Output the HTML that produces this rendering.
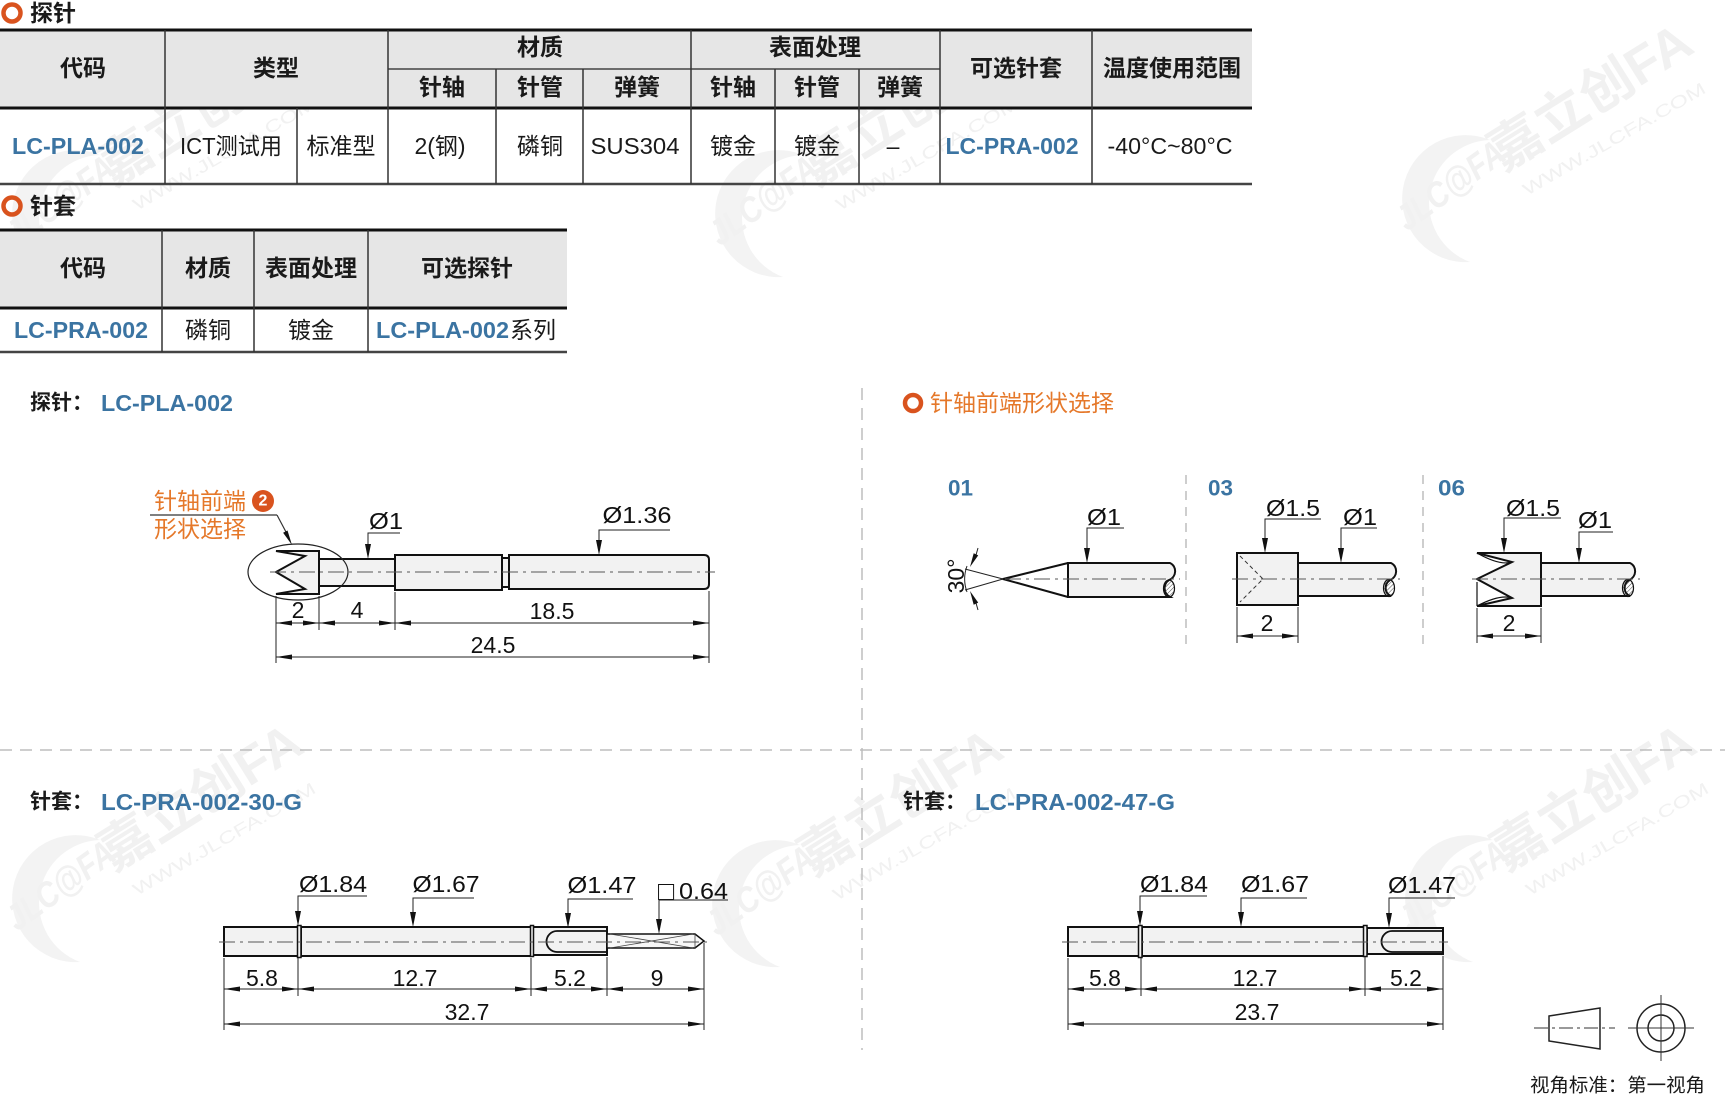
<!DOCTYPE html>
<html><head><meta charset="utf-8"><style>
html,body{margin:0;padding:0;background:#fff;}
svg{display:block;}
text{font-family:"Liberation Sans","Noto Sans CJK SC",sans-serif;}
.h{font-size:23px;font-weight:bold;fill:#1a1a1a;text-anchor:middle;dominant-baseline:central;}
.d{font-size:23px;fill:#1a1a1a;text-anchor:middle;dominant-baseline:central;}
.bl{font-weight:bold;fill:#3b74a2;}
.dim{font-size:23px;fill:#111;text-anchor:middle;dominant-baseline:central;}
.o{fill:#f2f2f2;stroke:#111;stroke-width:2;}
.dl{stroke:#222;stroke-width:1;fill:none;}
.cl{stroke:#555;stroke-width:1;stroke-dasharray:16 5 3 5;fill:none;}
.ar{fill:#111;}
.vl{stroke:#333;stroke-width:1.5;}
.wm text{fill:#f1f1f1;}
.wm path{fill:#f3f3f3;}
</style></head><body>
<svg width="1725" height="1099" viewBox="0 0 1725 1099" xmlns="http://www.w3.org/2000/svg">
<defs>
<pattern id="hatch" width="3" height="3" patternUnits="userSpaceOnUse" patternTransform="rotate(45)">
<line x1="0" y1="0" x2="0" y2="3" stroke="#333" stroke-width="0.9"/>
</pattern>
</defs>

<!-- watermarks -->
<g class="wm" transform="translate(0,0)">
<path d="M1490,140 A63.5,63.5 0 1,0 1470,262 A63,63 0 0,1 1490,140 Z"/>
<text x="1407" y="232" transform="rotate(-36 1407 232)" font-size="36" font-weight="bold" font-style="italic" textLength="125" lengthAdjust="spacingAndGlyphs">JLC@FA</text>
<text x="1503" y="172" transform="rotate(-32 1503 172)" font-size="52" font-weight="bold" textLength="228" lengthAdjust="spacingAndGlyphs">嘉立创FA</text>
<text x="1527" y="196" transform="rotate(-30 1527 196)" font-size="17" textLength="208" lengthAdjust="spacingAndGlyphs">WWW.JLCFA.COM</text>
</g>
<g class="wm" transform="translate(-1390,15)">
<path d="M1490,140 A63.5,63.5 0 1,0 1470,262 A63,63 0 0,1 1490,140 Z"/>
<text x="1407" y="232" transform="rotate(-36 1407 232)" font-size="36" font-weight="bold" font-style="italic" textLength="125" lengthAdjust="spacingAndGlyphs">JLC@FA</text>
<text x="1503" y="172" transform="rotate(-32 1503 172)" font-size="52" font-weight="bold" textLength="228" lengthAdjust="spacingAndGlyphs">嘉立创FA</text>
<text x="1527" y="196" transform="rotate(-30 1527 196)" font-size="17" textLength="208" lengthAdjust="spacingAndGlyphs">WWW.JLCFA.COM</text>
</g>
<g class="wm" transform="translate(-687,15)">
<path d="M1490,140 A63.5,63.5 0 1,0 1470,262 A63,63 0 0,1 1490,140 Z"/>
<text x="1407" y="232" transform="rotate(-36 1407 232)" font-size="36" font-weight="bold" font-style="italic" textLength="125" lengthAdjust="spacingAndGlyphs">JLC@FA</text>
<text x="1503" y="172" transform="rotate(-32 1503 172)" font-size="52" font-weight="bold" textLength="228" lengthAdjust="spacingAndGlyphs">嘉立创FA</text>
<text x="1527" y="196" transform="rotate(-30 1527 196)" font-size="17" textLength="208" lengthAdjust="spacingAndGlyphs">WWW.JLCFA.COM</text>
</g>
<g class="wm" transform="translate(-1390,700)">
<path d="M1490,140 A63.5,63.5 0 1,0 1470,262 A63,63 0 0,1 1490,140 Z"/>
<text x="1407" y="232" transform="rotate(-36 1407 232)" font-size="36" font-weight="bold" font-style="italic" textLength="125" lengthAdjust="spacingAndGlyphs">JLC@FA</text>
<text x="1503" y="172" transform="rotate(-32 1503 172)" font-size="52" font-weight="bold" textLength="228" lengthAdjust="spacingAndGlyphs">嘉立创FA</text>
<text x="1527" y="196" transform="rotate(-30 1527 196)" font-size="17" textLength="208" lengthAdjust="spacingAndGlyphs">WWW.JLCFA.COM</text>
</g>
<g class="wm" transform="translate(-690,705)">
<path d="M1490,140 A63.5,63.5 0 1,0 1470,262 A63,63 0 0,1 1490,140 Z"/>
<text x="1407" y="232" transform="rotate(-36 1407 232)" font-size="36" font-weight="bold" font-style="italic" textLength="125" lengthAdjust="spacingAndGlyphs">JLC@FA</text>
<text x="1503" y="172" transform="rotate(-32 1503 172)" font-size="52" font-weight="bold" textLength="228" lengthAdjust="spacingAndGlyphs">嘉立创FA</text>
<text x="1527" y="196" transform="rotate(-30 1527 196)" font-size="17" textLength="208" lengthAdjust="spacingAndGlyphs">WWW.JLCFA.COM</text>
</g>
<g class="wm" transform="translate(3,700)">
<path d="M1490,140 A63.5,63.5 0 1,0 1470,262 A63,63 0 0,1 1490,140 Z"/>
<text x="1407" y="232" transform="rotate(-36 1407 232)" font-size="36" font-weight="bold" font-style="italic" textLength="125" lengthAdjust="spacingAndGlyphs">JLC@FA</text>
<text x="1503" y="172" transform="rotate(-32 1503 172)" font-size="52" font-weight="bold" textLength="228" lengthAdjust="spacingAndGlyphs">嘉立创FA</text>
<text x="1527" y="196" transform="rotate(-30 1527 196)" font-size="17" textLength="208" lengthAdjust="spacingAndGlyphs">WWW.JLCFA.COM</text>
</g>

<!-- ===== Table 1 ===== -->
<circle cx="12" cy="13" r="8.5" fill="none" stroke="#d9531e" stroke-width="4.5"/>
<text x="30" y="13" font-size="23" font-weight="bold" fill="#1a1a1a" dominant-baseline="central">探针</text>
<rect x="0" y="31" width="1252" height="77" fill="#e6e6e6"/>
<line x1="0" y1="30" x2="1252" y2="30" stroke="#111" stroke-width="3"/>
<line x1="0" y1="108" x2="1252" y2="108" stroke="#111" stroke-width="3"/>
<line x1="0" y1="184" x2="1252" y2="184" stroke="#444" stroke-width="2.5"/>
<line x1="388" y1="69" x2="940" y2="69" stroke="#444" stroke-width="1.5"/>
<line class="vl" x1="165" y1="30" x2="165" y2="184"/>
<line class="vl" x1="297" y1="108" x2="297" y2="184"/>
<line class="vl" x1="388" y1="30" x2="388" y2="184"/>
<line class="vl" x1="496" y1="69" x2="496" y2="184"/>
<line class="vl" x1="583" y1="69" x2="583" y2="184"/>
<line class="vl" x1="691" y1="30" x2="691" y2="184"/>
<line class="vl" x1="775" y1="69" x2="775" y2="184"/>
<line class="vl" x1="859" y1="69" x2="859" y2="184"/>
<line class="vl" x1="940" y1="30" x2="940" y2="184"/>
<line class="vl" x1="1092" y1="30" x2="1092" y2="184"/>

<text class="h" x="83" y="68">代码</text>
<text class="h" x="276" y="68">类型</text>
<text class="h" x="540" y="47">材质</text>
<text class="h" x="442" y="87">针轴</text>
<text class="h" x="540" y="87">针管</text>
<text class="h" x="637" y="87">弹簧</text>
<text class="h" x="815" y="47">表面处理</text>
<text class="h" x="733" y="87">针轴</text>
<text class="h" x="817" y="87">针管</text>
<text class="h" x="900" y="87">弹簧</text>
<text class="h" x="1016" y="68">可选针套</text>
<text class="h" x="1172" y="68">温度使用范围</text>

<text class="d bl" x="78" y="146" textLength="132" lengthAdjust="spacingAndGlyphs">LC-PLA-002</text>
<text class="d" x="231" y="146" textLength="102" lengthAdjust="spacingAndGlyphs">ICT测试用</text>
<text class="d" x="341" y="146">标准型</text>
<text class="d" x="440" y="146">2(钢)</text>
<text class="d" x="540" y="146">磷铜</text>
<text class="d" x="635" y="146" textLength="89" lengthAdjust="spacingAndGlyphs">SUS304</text>
<text class="d" x="733" y="146">镀金</text>
<text class="d" x="817" y="146">镀金</text>
<text class="d" x="893" y="146">–</text>
<text class="d bl" x="1012" y="146" textLength="133" lengthAdjust="spacingAndGlyphs">LC-PRA-002</text>
<text class="d" x="1170" y="146" textLength="125" lengthAdjust="spacingAndGlyphs">-40°C~80°C</text>

<!-- ===== Table 2 ===== -->
<circle cx="12" cy="206" r="8.5" fill="none" stroke="#d9531e" stroke-width="4.5"/>
<text x="30" y="206" font-size="23" font-weight="bold" fill="#1a1a1a" dominant-baseline="central">针套</text>
<rect x="0" y="231" width="567" height="77" fill="#e6e6e6"/>
<line x1="0" y1="230" x2="567" y2="230" stroke="#111" stroke-width="3"/>
<line x1="0" y1="308" x2="567" y2="308" stroke="#111" stroke-width="3"/>
<line x1="0" y1="352" x2="567" y2="352" stroke="#444" stroke-width="2.5"/>
<line class="vl" x1="162" y1="230" x2="162" y2="352"/>
<line class="vl" x1="254" y1="230" x2="254" y2="352"/>
<line class="vl" x1="368" y1="230" x2="368" y2="352"/>
<text class="h" x="83" y="268">代码</text>
<text class="h" x="208" y="268">材质</text>
<text class="h" x="311" y="268">表面处理</text>
<text class="h" x="467" y="268">可选探针</text>
<text class="d bl" x="81" y="330" textLength="134" lengthAdjust="spacingAndGlyphs">LC-PRA-002</text>
<text class="d" x="208" y="330">磷铜</text>
<text class="d" x="311" y="330">镀金</text>
<text class="d bl" x="376" y="330" style="text-anchor:start" textLength="133" lengthAdjust="spacingAndGlyphs">LC-PLA-002</text>
<text class="d" x="510" y="330" style="text-anchor:start">系列</text>

<!-- ===== dividers ===== -->
<line x1="0" y1="750" x2="1725" y2="750" stroke="#bdbdbd" stroke-width="1.5" stroke-dasharray="12 8"/>
<line x1="862" y1="388" x2="862" y2="1050" stroke="#bdbdbd" stroke-width="1.5" stroke-dasharray="12 8"/>
<line x1="1186" y1="475" x2="1186" y2="650" stroke="#bdbdbd" stroke-width="1.5" stroke-dasharray="9 7"/>
<line x1="1423" y1="475" x2="1423" y2="650" stroke="#bdbdbd" stroke-width="1.5" stroke-dasharray="9 7"/>

<!-- ===== Probe drawing ===== -->
<text x="30" y="403" font-size="21" font-weight="bold" fill="#1a1a1a" dominant-baseline="central">探针：</text>
<text x="101" y="403" font-size="23" class="bl" dominant-baseline="central" textLength="132" lengthAdjust="spacingAndGlyphs">LC-PLA-002</text>

<text x="154" y="501" font-size="23" fill="#e5782a" dominant-baseline="central">针轴前端</text>
<circle cx="263" cy="501" r="11" fill="#d9531e"/>
<text x="263" y="501" font-size="16" font-weight="bold" fill="#fff" text-anchor="middle" dominant-baseline="central">2</text>
<line x1="150" y1="515" x2="277" y2="515" stroke="#333" stroke-width="1.2"/>
<line x1="277" y1="515" x2="286" y2="532" stroke="#333" stroke-width="1.2"/>
<polygon class="ar" points="292,545 287.5,530.5 283.1,532.7"/>
<text x="154" y="529" font-size="23" fill="#e5782a" dominant-baseline="central">形状选择</text>

<polygon class="o" points="276,551 319,551 319,594 276,594 305,589 276,572 305,556"/>
<rect class="o" x="319" y="559" width="76" height="27"/>
<rect class="o" x="395" y="555" width="107" height="35"/>
<rect class="o" x="502" y="558" width="7" height="29"/>
<path class="o" d="M509,555 H704 Q709,555 709,560 V584 Q709,589 704,589 H509 Z"/>
<line class="cl" x1="270" y1="572" x2="715" y2="572"/>
<ellipse cx="298" cy="572" rx="50" ry="28" fill="none" stroke="#222" stroke-width="1.2"/>

<!-- probe callouts -->
<text class="dim" x="386" y="521" textLength="34" lengthAdjust="spacingAndGlyphs">Ø1</text>
<polyline class="dl" points="400,533 368,533 368,545"/>
<polygon class="ar" points="368,559 365,544 371,544"/>
<text class="dim" x="637" y="515" textLength="69" lengthAdjust="spacingAndGlyphs">Ø1.36</text>
<polyline class="dl" points="670,530 599,530 599,541"/>
<polygon class="ar" points="599,555 596,540 602,540"/>

<!-- probe dims -->
<line class="dl" x1="276" y1="596" x2="276" y2="663"/>
<line class="dl" x1="319" y1="596" x2="319" y2="630"/>
<line class="dl" x1="395" y1="592" x2="395" y2="630"/>
<line class="dl" x1="709" y1="591" x2="709" y2="663"/>
<line class="dl" x1="276" y1="623" x2="709" y2="623"/>
<line class="dl" x1="276" y1="657" x2="709" y2="657"/>
<polygon class="ar" points="276,623 292,620.5 292,625.5"/>
<polygon class="ar" points="319,623 303,620.5 303,625.5"/>
<polygon class="ar" points="319,623 335,620.5 335,625.5"/>
<polygon class="ar" points="395,623 379,620.5 379,625.5"/>
<polygon class="ar" points="395,623 411,620.5 411,625.5"/>
<polygon class="ar" points="709,623 693,620.5 693,625.5"/>
<polygon class="ar" points="276,657 292,654.5 292,659.5"/>
<polygon class="ar" points="709,657 693,654.5 693,659.5"/>
<text class="dim" x="298" y="610">2</text>
<text class="dim" x="357" y="610">4</text>
<text class="dim" x="552" y="611">18.5</text>
<text class="dim" x="493" y="645">24.5</text>

<!-- ===== Tip shapes ===== -->
<circle cx="913" cy="403" r="8" fill="none" stroke="#d9531e" stroke-width="4.5"/>
<text x="930" y="403" font-size="23" fill="#e5782a" dominant-baseline="central">针轴前端形状选择</text>

<text x="948" y="488" font-size="22" class="bl" dominant-baseline="central" textLength="25" lengthAdjust="spacingAndGlyphs">01</text>
<text x="1208" y="488" font-size="22" class="bl" dominant-baseline="central" textLength="25" lengthAdjust="spacingAndGlyphs">03</text>
<text x="1438" y="488" font-size="22" class="bl" dominant-baseline="central" textLength="27" lengthAdjust="spacingAndGlyphs">06</text>

<!-- tip 01 -->
<path class="o" d="M1068,563 H1170 C1177,566 1177,577 1169,580 C1163,584 1163,593 1170,597 H1068 Z"/>
<ellipse cx="1169" cy="588.5" rx="5.5" ry="8.5" fill="url(#hatch)" stroke="#111" stroke-width="1.2"/>
<polygon points="1003,579 1068,563 1068,597" fill="#fff" stroke="#111" stroke-width="2" stroke-linejoin="round"/>
<line class="cl" x1="1005" y1="579" x2="1180" y2="579"/>
<line class="dl" x1="1003" y1="579" x2="965" y2="569"/>
<line class="dl" x1="1003" y1="579" x2="965" y2="590"/>
<path class="dl" d="M967,566 A38,38 0 0,0 967,592"/>
<line class="dl" x1="978" y1="548" x2="976" y2="555"/>
<polygon class="ar" points="970,567 978.2,555.4 973.7,553.2"/>
<line class="dl" x1="978" y1="610" x2="976" y2="603"/>
<polygon class="ar" points="970,591 978.2,602.6 973.7,604.8"/>
<text class="dim" x="956" y="576" transform="rotate(-90 956 576)">30°</text>
<text class="dim" x="1104" y="517" textLength="34" lengthAdjust="spacingAndGlyphs">Ø1</text>
<polyline class="dl" points="1124,528 1087,528 1087,549"/>
<polygon class="ar" points="1087,563 1084,548 1090,548"/>

<!-- tip 03 -->
<path class="o" d="M1298,563 H1391 C1398,566 1398,577 1390,580 C1384,584 1384,593 1391,596 H1298 Z"/>
<ellipse cx="1389" cy="588" rx="5.5" ry="8.5" fill="url(#hatch)" stroke="#111" stroke-width="1.2"/>
<rect class="o" x="1237" y="553" width="61" height="52"/>
<polyline points="1240,556 1263,579 1240,602" fill="none" stroke="#333" stroke-width="1" stroke-dasharray="4 3"/>
<line class="cl" x1="1232" y1="579" x2="1400" y2="579"/>
<text class="dim" x="1293" y="508" textLength="54" lengthAdjust="spacingAndGlyphs">Ø1.5</text>
<polyline class="dl" points="1321,519 1265,519 1265,539"/>
<polygon class="ar" points="1265,553 1262,538 1268,538"/>
<text class="dim" x="1360" y="517" textLength="34" lengthAdjust="spacingAndGlyphs">Ø1</text>
<polyline class="dl" points="1377,528 1341,528 1341,549"/>
<polygon class="ar" points="1341,563 1338,548 1344,548"/>
<line class="dl" x1="1237" y1="607" x2="1237" y2="643"/>
<line class="dl" x1="1298" y1="607" x2="1298" y2="643"/>
<line class="dl" x1="1237" y1="636" x2="1298" y2="636"/>
<polygon class="ar" points="1237,636 1253,633.5 1253,638.5"/>
<polygon class="ar" points="1298,636 1282,633.5 1282,638.5"/>
<text class="dim" x="1267" y="623">2</text>

<!-- tip 06 -->
<path class="o" d="M1541,563 H1630 C1637,566 1637,577 1629,580 C1623,584 1623,593 1630,596 H1541 Z"/>
<ellipse cx="1628" cy="588" rx="5.5" ry="8.5" fill="url(#hatch)" stroke="#111" stroke-width="1.2"/>
<polygon class="o" points="1477,553 1541,553 1541,606 1477,606 1512,598 1477,579 1512,562"/>
<path d="M1477,553 Q1500,566 1512,562 M1477,606 Q1500,594 1512,598 M1477,582 V606" fill="none" stroke="#111" stroke-width="1.2"/>
<line class="cl" x1="1472" y1="579" x2="1640" y2="579"/>
<text class="dim" x="1533" y="508" textLength="54" lengthAdjust="spacingAndGlyphs">Ø1.5</text>
<polyline class="dl" points="1561,518 1504,518 1504,539"/>
<polygon class="ar" points="1504,553 1501,538 1507,538"/>
<text class="dim" x="1595" y="520" textLength="34" lengthAdjust="spacingAndGlyphs">Ø1</text>
<polyline class="dl" points="1613,532 1579,532 1579,549"/>
<polygon class="ar" points="1579,563 1576,548 1582,548"/>
<line class="dl" x1="1477" y1="608" x2="1477" y2="643"/>
<line class="dl" x1="1541" y1="608" x2="1541" y2="643"/>
<line class="dl" x1="1477" y1="636" x2="1541" y2="636"/>
<polygon class="ar" points="1477,636 1493,633.5 1493,638.5"/>
<polygon class="ar" points="1541,636 1525,633.5 1525,638.5"/>
<text class="dim" x="1509" y="623">2</text>

<!-- ===== Sleeve 1 ===== -->
<text x="30" y="802" font-size="21" font-weight="bold" fill="#1a1a1a" dominant-baseline="central">针套：</text>
<text x="101" y="802" font-size="23" class="bl" dominant-baseline="central" textLength="201" lengthAdjust="spacingAndGlyphs">LC-PRA-002-30-G</text>

<rect class="o" x="224" y="927" width="74" height="29"/>
<rect class="o" x="301" y="927" width="230" height="29"/>
<rect class="o" x="533" y="927" width="74" height="28"/>
<rect x="297.5" y="925.5" width="3.5" height="32" fill="#f2f2f2" stroke="#111" stroke-width="1.5"/>
<rect x="530.5" y="925.5" width="3" height="31" fill="#f2f2f2" stroke="#111" stroke-width="1.5"/>
<path d="M607,931 H557 A10.5,10.5 0 0 0 557,952 H607" fill="none" stroke="#111" stroke-width="1.8"/>
<path d="M607,934 H695 L704,941 L695,948 H607 Z" fill="#f7f7f7" stroke="#111" stroke-width="1.5"/>
<path d="M610,934 L693,948 M610,948 L693,934 M695,934 V948" fill="none" stroke="#444" stroke-width="0.8"/>
<line class="cl" x1="219" y1="942" x2="710" y2="942"/>

<text class="dim" x="333" y="884" textLength="68" lengthAdjust="spacingAndGlyphs">Ø1.84</text>
<polyline class="dl" points="367,896 298,896 298,912"/>
<polygon class="ar" points="298,926 295,911 301,911"/>
<text class="dim" x="446" y="884" textLength="67" lengthAdjust="spacingAndGlyphs">Ø1.67</text>
<polyline class="dl" points="474,898 413,898 413,913"/>
<polygon class="ar" points="413,927 410,912 416,912"/>
<text class="dim" x="602" y="885" textLength="69" lengthAdjust="spacingAndGlyphs">Ø1.47</text>
<polyline class="dl" points="633,899 568,899 568,914"/>
<polygon class="ar" points="568,928 565,913 571,913"/>
<text x="658" y="891" font-size="27" fill="#111" dominant-baseline="central">□</text>
<text class="dim" x="679" y="891" style="text-anchor:start" textLength="49" lengthAdjust="spacingAndGlyphs">0.64</text>
<polyline class="dl" points="728,900 659,900 659,920"/>
<polygon class="ar" points="659,934 656,919 662,919"/>

<line class="dl" x1="224" y1="958" x2="224" y2="1030"/>
<line class="dl" x1="298" y1="958" x2="298" y2="996"/>
<line class="dl" x1="531" y1="958" x2="531" y2="996"/>
<line class="dl" x1="607" y1="957" x2="607" y2="996"/>
<line class="dl" x1="704" y1="943" x2="704" y2="1030"/>
<line class="dl" x1="224" y1="989" x2="704" y2="989"/>
<line class="dl" x1="224" y1="1024" x2="704" y2="1024"/>
<polygon class="ar" points="224,989 240,986.5 240,991.5"/>
<polygon class="ar" points="298,989 282,986.5 282,991.5"/>
<polygon class="ar" points="298,989 314,986.5 314,991.5"/>
<polygon class="ar" points="531,989 515,986.5 515,991.5"/>
<polygon class="ar" points="531,989 547,986.5 547,991.5"/>
<polygon class="ar" points="607,989 591,986.5 591,991.5"/>
<polygon class="ar" points="607,989 623,986.5 623,991.5"/>
<polygon class="ar" points="704,989 688,986.5 688,991.5"/>
<polygon class="ar" points="224,1024 240,1021.5 240,1026.5"/>
<polygon class="ar" points="704,1024 688,1021.5 688,1026.5"/>
<text class="dim" x="262" y="978">5.8</text>
<text class="dim" x="415" y="978">12.7</text>
<text class="dim" x="570" y="978">5.2</text>
<text class="dim" x="657" y="978">9</text>
<text class="dim" x="467" y="1012">32.7</text>

<!-- ===== Sleeve 2 ===== -->
<text x="903" y="802" font-size="21" font-weight="bold" fill="#1a1a1a" dominant-baseline="central">针套：</text>
<text x="975" y="802" font-size="23" class="bl" dominant-baseline="central" textLength="200" lengthAdjust="spacingAndGlyphs">LC-PRA-002-47-G</text>

<rect class="o" x="1068" y="927" width="71" height="29"/>
<rect class="o" x="1142" y="927" width="222" height="29"/>
<rect class="o" x="1367" y="928" width="76" height="26"/>
<rect x="1138.5" y="925.5" width="3.5" height="32" fill="#f2f2f2" stroke="#111" stroke-width="1.5"/>
<rect x="1363.5" y="925.5" width="3.5" height="31" fill="#f2f2f2" stroke="#111" stroke-width="1.5"/>
<path d="M1443,931 H1392 A10.5,10.5 0 0 0 1392,952 H1443" fill="none" stroke="#111" stroke-width="1.8"/>
<line class="cl" x1="1062" y1="942" x2="1448" y2="942"/>

<text class="dim" x="1174" y="884" textLength="68" lengthAdjust="spacingAndGlyphs">Ø1.84</text>
<polyline class="dl" points="1207,896 1140,896 1140,912"/>
<polygon class="ar" points="1140,926 1137,911 1143,911"/>
<text class="dim" x="1275" y="884" textLength="68" lengthAdjust="spacingAndGlyphs">Ø1.67</text>
<polyline class="dl" points="1307,898 1241,898 1241,913"/>
<polygon class="ar" points="1241,927 1238,912 1244,912"/>
<text class="dim" x="1422" y="885" textLength="68" lengthAdjust="spacingAndGlyphs">Ø1.47</text>
<polyline class="dl" points="1455,898 1389,898 1389,914"/>
<polygon class="ar" points="1389,928 1386,913 1392,913"/>

<line class="dl" x1="1068" y1="958" x2="1068" y2="1030"/>
<line class="dl" x1="1141" y1="958" x2="1141" y2="996"/>
<line class="dl" x1="1365" y1="957" x2="1365" y2="996"/>
<line class="dl" x1="1443" y1="956" x2="1443" y2="1030"/>
<line class="dl" x1="1068" y1="989" x2="1443" y2="989"/>
<line class="dl" x1="1068" y1="1024" x2="1443" y2="1024"/>
<polygon class="ar" points="1068,989 1084,986.5 1084,991.5"/>
<polygon class="ar" points="1141,989 1125,986.5 1125,991.5"/>
<polygon class="ar" points="1141,989 1157,986.5 1157,991.5"/>
<polygon class="ar" points="1365,989 1349,986.5 1349,991.5"/>
<polygon class="ar" points="1365,989 1381,986.5 1381,991.5"/>
<polygon class="ar" points="1443,989 1427,986.5 1427,991.5"/>
<polygon class="ar" points="1068,1024 1084,1021.5 1084,1026.5"/>
<polygon class="ar" points="1443,1024 1427,1021.5 1427,1026.5"/>
<text class="dim" x="1105" y="978">5.8</text>
<text class="dim" x="1255" y="978">12.7</text>
<text class="dim" x="1406" y="978">5.2</text>
<text class="dim" x="1257" y="1012">23.7</text>

<!-- ===== view symbol ===== -->
<polygon points="1549,1016 1600,1008 1600,1049 1549,1041" fill="none" stroke="#222" stroke-width="1.5"/>
<line x1="1534" y1="1028" x2="1615" y2="1028" stroke="#333" stroke-width="1" stroke-dasharray="14 4 3 4"/>
<circle cx="1661" cy="1028" r="24" fill="none" stroke="#222" stroke-width="1.5"/>
<circle cx="1661" cy="1028" r="13" fill="none" stroke="#222" stroke-width="1.5"/>
<line x1="1628" y1="1028" x2="1694" y2="1028" stroke="#333" stroke-width="1"/>
<line x1="1661" y1="995" x2="1661" y2="1061" stroke="#333" stroke-width="1"/>
<text x="1530" y="1086" font-size="19" fill="#1a1a1a" dominant-baseline="central" textLength="175" lengthAdjust="spacingAndGlyphs">视角标准：第一视角</text>
</svg>
</body></html>
